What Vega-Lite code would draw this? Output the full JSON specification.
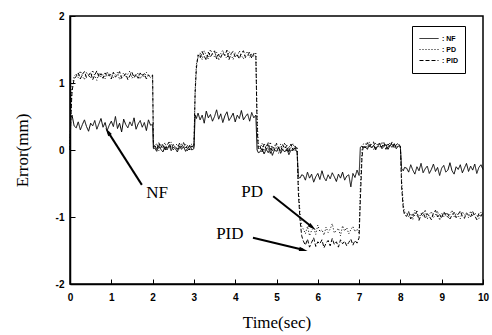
{
"$schema": "https://vega.github.io/schema/vega-lite/v6.json",
"width": 413, "height": 268,
"autosize": "none",
"padding": {"left": 70, "top": 16, "right": 9, "bottom": 51},
"background": "white",
"config": {"view": {"stroke": "black", "strokeWidth": 1.5}, "font": "Liberation Sans"},
"datasets": {
"sig": [
{"t":0,"NF":0,"PD":0,"PID":0},
{"t":0.02,"NF":0.48,"PD":0.55,"PID":0.5},
{"t":0.05,"NF":0.52,"PD":0.95,"PID":0.88},
{"t":0.1,"NF":0.36,"PD":1.1,"PID":1.06},
{"t":0.15,"NF":0.33,"PD":1.14,"PID":1.10},
{"t":0.2,"NF":0.42,"PD":1.08,"PID":1.15},
{"t":0.25,"NF":0.30,"PD":1.18,"PID":1.06},
{"t":0.3,"NF":0.38,"PD":1.10,"PID":1.13},
{"t":0.35,"NF":0.45,"PD":1.05,"PID":1.17},
{"t":0.4,"NF":0.35,"PD":1.16,"PID":1.08},
{"t":0.45,"NF":0.28,"PD":1.12,"PID":1.11},
{"t":0.5,"NF":0.40,"PD":1.07,"PID":1.16},
{"t":0.55,"NF":0.36,"PD":1.19,"PID":1.05},
{"t":0.6,"NF":0.44,"PD":1.11,"PID":1.12},
{"t":0.65,"NF":0.31,"PD":1.04,"PID":1.18},
{"t":0.7,"NF":0.39,"PD":1.15,"PID":1.09},
{"t":0.75,"NF":0.47,"PD":1.09,"PID":1.14},
{"t":0.8,"NF":0.34,"PD":1.13,"PID":1.07},
{"t":0.85,"NF":0.41,"PD":1.06,"PID":1.15},
{"t":0.9,"NF":0.29,"PD":1.17,"PID":1.10},
{"t":0.95,"NF":0.37,"PD":1.10,"PID":1.13},
{"t":1.0,"NF":0.43,"PD":1.14,"PID":1.06},
{"t":1.05,"NF":0.35,"PD":1.08,"PID":1.16},
{"t":1.1,"NF":0.50,"PD":1.12,"PID":1.09},
{"t":1.15,"NF":0.32,"PD":1.16,"PID":1.12},
{"t":1.2,"NF":0.40,"PD":1.05,"PID":1.17},
{"t":1.25,"NF":0.27,"PD":1.11,"PID":1.07},
{"t":1.3,"NF":0.46,"PD":1.15,"PID":1.10},
{"t":1.35,"NF":0.38,"PD":1.09,"PID":1.14},
{"t":1.4,"NF":0.33,"PD":1.13,"PID":1.05},
{"t":1.45,"NF":0.42,"PD":1.18,"PID":1.11},
{"t":1.5,"NF":0.36,"PD":1.07,"PID":1.16},
{"t":1.55,"NF":0.48,"PD":1.12,"PID":1.08},
{"t":1.6,"NF":0.31,"PD":1.10,"PID":1.13},
{"t":1.65,"NF":0.39,"PD":1.15,"PID":1.07},
{"t":1.7,"NF":0.44,"PD":1.06,"PID":1.15},
{"t":1.75,"NF":0.34,"PD":1.13,"PID":1.10},
{"t":1.8,"NF":0.41,"PD":1.09,"PID":1.14},
{"t":1.85,"NF":0.29,"PD":1.16,"PID":1.06},
{"t":1.9,"NF":0.45,"PD":1.11,"PID":1.12},
{"t":1.95,"NF":0.37,"PD":1.08,"PID":1.09},
{"t":2.0,"NF":0.38,"PD":1.11,"PID":1.12},
{"t":2.02,"NF":0.02,"PD":0.06,"PID":0.04},
{"t":2.05,"NF":0.03,"PD":0.05,"PID":0.08},
{"t":2.1,"NF":-0.02,"PD":0.10,"PID":0.00},
{"t":2.15,"NF":0.06,"PD":-0.01,"PID":0.11},
{"t":2.2,"NF":0.01,"PD":0.08,"PID":0.03},
{"t":2.25,"NF":-0.03,"PD":0.03,"PID":0.09},
{"t":2.3,"NF":0.05,"PD":0.11,"PID":-0.01},
{"t":2.35,"NF":0.00,"PD":0.02,"PID":0.07},
{"t":2.4,"NF":0.07,"PD":0.06,"PID":0.12},
{"t":2.45,"NF":-0.01,"PD":0.12,"PID":0.02},
{"t":2.5,"NF":0.04,"PD":0.00,"PID":0.08},
{"t":2.55,"NF":0.02,"PD":0.07,"PID":0.05},
{"t":2.6,"NF":-0.03,"PD":0.09,"PID":0.01},
{"t":2.65,"NF":0.06,"PD":0.01,"PID":0.10},
{"t":2.7,"NF":0.01,"PD":0.10,"PID":0.04},
{"t":2.75,"NF":0.05,"PD":0.04,"PID":0.11},
{"t":2.8,"NF":-0.02,"PD":0.08,"PID":0.03},
{"t":2.85,"NF":0.03,"PD":-0.02,"PID":0.07},
{"t":2.9,"NF":0.07,"PD":0.06,"PID":0.00},
{"t":2.95,"NF":0.00,"PD":0.09,"PID":0.06},
{"t":3.0,"NF":0.02,"PD":0.05,"PID":0.03},
{"t":3.03,"NF":0.52,"PD":0.9,"PID":0.85},
{"t":3.06,"NF":0.47,"PD":1.28,"PID":1.22},
{"t":3.1,"NF":0.55,"PD":1.38,"PID":1.42},
{"t":3.15,"NF":0.45,"PD":1.45,"PID":1.37},
{"t":3.2,"NF":0.52,"PD":1.35,"PID":1.47},
{"t":3.25,"NF":0.40,"PD":1.48,"PID":1.40},
{"t":3.3,"NF":0.58,"PD":1.41,"PID":1.34},
{"t":3.35,"NF":0.48,"PD":1.36,"PID":1.46},
{"t":3.4,"NF":0.53,"PD":1.50,"PID":1.39},
{"t":3.45,"NF":0.43,"PD":1.43,"PID":1.44},
{"t":3.5,"NF":0.50,"PD":1.39,"PID":1.48},
{"t":3.55,"NF":0.60,"PD":1.46,"PID":1.36},
{"t":3.6,"NF":0.46,"PD":1.34,"PID":1.43},
{"t":3.65,"NF":0.54,"PD":1.44,"PID":1.38},
{"t":3.7,"NF":0.41,"PD":1.49,"PID":1.45},
{"t":3.75,"NF":0.51,"PD":1.40,"PID":1.41},
{"t":3.8,"NF":0.57,"PD":1.37,"PID":1.49},
{"t":3.85,"NF":0.44,"PD":1.47,"PID":1.35},
{"t":3.9,"NF":0.49,"PD":1.42,"PID":1.44},
{"t":3.95,"NF":0.55,"PD":1.35,"PID":1.47},
{"t":4.0,"NF":0.42,"PD":1.45,"PID":1.39},
{"t":4.05,"NF":0.52,"PD":1.39,"PID":1.42},
{"t":4.1,"NF":0.47,"PD":1.48,"PID":1.36},
{"t":4.15,"NF":0.59,"PD":1.41,"PID":1.45},
{"t":4.2,"NF":0.45,"PD":1.36,"PID":1.48},
{"t":4.25,"NF":0.50,"PD":1.44,"PID":1.38},
{"t":4.3,"NF":0.54,"PD":1.47,"PID":1.41},
{"t":4.35,"NF":0.43,"PD":1.38,"PID":1.46},
{"t":4.4,"NF":0.56,"PD":1.43,"PID":1.37},
{"t":4.45,"NF":0.48,"PD":1.40,"PID":1.44},
{"t":4.5,"NF":0.52,"PD":1.46,"PID":1.40},
{"t":4.53,"NF":0.0,"PD":0.5,"PID":0.35},
{"t":4.56,"NF":-0.04,"PD":0.05,"PID":0.02},
{"t":4.6,"NF":-0.03,"PD":0.02,"PID":0.06},
{"t":4.65,"NF":0.02,"PD":0.10,"PID":-0.03},
{"t":4.7,"NF":-0.06,"PD":-0.04,"PID":0.09},
{"t":4.75,"NF":0.01,"PD":0.08,"PID":0.01},
{"t":4.8,"NF":-0.04,"PD":0.00,"PID":0.11},
{"t":4.85,"NF":0.03,"PD":0.12,"PID":-0.05},
{"t":4.9,"NF":-0.08,"PD":-0.02,"PID":0.05},
{"t":4.95,"NF":0.00,"PD":0.07,"PID":0.00},
{"t":5.0,"NF":-0.02,"PD":0.04,"PID":0.10},
{"t":5.05,"NF":0.04,"PD":-0.05,"PID":0.03},
{"t":5.1,"NF":-0.05,"PD":0.09,"PID":-0.02},
{"t":5.15,"NF":0.01,"PD":0.01,"PID":0.08},
{"t":5.2,"NF":-0.03,"PD":0.11,"PID":0.02},
{"t":5.25,"NF":0.02,"PD":-0.03,"PID":0.07},
{"t":5.3,"NF":-0.07,"PD":0.06,"PID":-0.04},
{"t":5.35,"NF":0.00,"PD":0.03,"PID":0.09},
{"t":5.4,"NF":-0.01,"PD":0.10,"PID":0.00},
{"t":5.45,"NF":0.03,"PD":-0.01,"PID":0.06},
{"t":5.5,"NF":-0.04,"PD":0.05,"PID":-0.02},
{"t":5.53,"NF":-0.40,"PD":-0.55,"PID":-0.65},
{"t":5.57,"NF":-0.42,"PD":-0.95,"PID":-1.05},
{"t":5.61,"NF":-0.37,"PD":-1.14,"PID":-1.28},
{"t":5.65,"NF":-0.38,"PD":-1.18,"PID":-1.36},
{"t":5.7,"NF":-0.45,"PD":-1.25,"PID":-1.42},
{"t":5.75,"NF":-0.33,"PD":-1.14,"PID":-1.33},
{"t":5.8,"NF":-0.42,"PD":-1.28,"PID":-1.45},
{"t":5.85,"NF":-0.36,"PD":-1.20,"PID":-1.38},
{"t":5.9,"NF":-0.48,"PD":-1.16,"PID":-1.31},
{"t":5.95,"NF":-0.40,"PD":-1.26,"PID":-1.44},
{"t":6.0,"NF":-0.35,"PD":-1.12,"PID":-1.37},
{"t":6.05,"NF":-0.44,"PD":-1.22,"PID":-1.40},
{"t":6.1,"NF":-0.31,"PD":-1.19,"PID":-1.34},
{"t":6.15,"NF":-0.41,"PD":-1.27,"PID":-1.46},
{"t":6.2,"NF":-0.46,"PD":-1.15,"PID":-1.39},
{"t":6.25,"NF":-0.37,"PD":-1.23,"PID":-1.35},
{"t":6.3,"NF":-0.43,"PD":-1.18,"PID":-1.43},
{"t":6.35,"NF":-0.34,"PD":-1.10,"PID":-1.32},
{"t":6.4,"NF":-0.40,"PD":-1.24,"PID":-1.41},
{"t":6.45,"NF":-0.47,"PD":-1.20,"PID":-1.37},
{"t":6.5,"NF":-0.36,"PD":-1.17,"PID":-1.45},
{"t":6.55,"NF":-0.42,"PD":-1.28,"PID":-1.34},
{"t":6.6,"NF":-0.33,"PD":-1.13,"PID":-1.40},
{"t":6.65,"NF":-0.45,"PD":-1.21,"PID":-1.36},
{"t":6.7,"NF":-0.39,"PD":-1.16,"PID":-1.43},
{"t":6.75,"NF":-0.37,"PD":-1.25,"PID":-1.38},
{"t":6.8,"NF":-0.55,"PD":-1.19,"PID":-1.33},
{"t":6.85,"NF":-0.35,"PD":-1.14,"PID":-1.42},
{"t":6.9,"NF":-0.41,"PD":-1.22,"PID":-1.35},
{"t":6.95,"NF":-0.30,"PD":-1.18,"PID":-1.39},
{"t":7.0,"NF":-0.38,"PD":-1.24,"PID":-1.31},
{"t":7.03,"NF":0.04,"PD":-0.55,"PID":-0.75},
{"t":7.07,"NF":0.06,"PD":0.0,"PID":-0.12},
{"t":7.1,"NF":0.03,"PD":0.09,"PID":0.07},
{"t":7.15,"NF":0.05,"PD":0.10,"PID":0.03},
{"t":7.2,"NF":0.01,"PD":0.04,"PID":0.11},
{"t":7.25,"NF":0.08,"PD":0.12,"PID":0.05},
{"t":7.3,"NF":0.03,"PD":0.06,"PID":0.09},
{"t":7.35,"NF":0.07,"PD":0.01,"PID":0.12},
{"t":7.4,"NF":0.00,"PD":0.11,"PID":0.02},
{"t":7.45,"NF":0.06,"PD":0.07,"PID":0.08},
{"t":7.5,"NF":0.09,"PD":0.03,"PID":0.10},
{"t":7.55,"NF":0.02,"PD":0.12,"PID":0.04},
{"t":7.6,"NF":0.05,"PD":0.05,"PID":0.11},
{"t":7.65,"NF":0.08,"PD":0.09,"PID":0.01},
{"t":7.7,"NF":0.01,"PD":0.02,"PID":0.09},
{"t":7.75,"NF":0.07,"PD":0.11,"PID":0.05},
{"t":7.8,"NF":0.04,"PD":0.06,"PID":0.12},
{"t":7.85,"NF":0.09,"PD":0.10,"PID":0.03},
{"t":7.9,"NF":0.02,"PD":0.03,"PID":0.08},
{"t":7.95,"NF":0.06,"PD":0.08,"PID":0.10},
{"t":8.0,"NF":0.04,"PD":0.07,"PID":0.05},
{"t":8.03,"NF":-0.28,"PD":-0.45,"PID":-0.55},
{"t":8.07,"NF":-0.31,"PD":-0.82,"PID":-0.88},
{"t":8.1,"NF":-0.26,"PD":-0.93,"PID":-0.97},
{"t":8.15,"NF":-0.27,"PD":-0.93,"PID":-0.99},
{"t":8.2,"NF":-0.33,"PD":-1.00,"PID":-0.92},
{"t":8.25,"NF":-0.22,"PD":-0.95,"PID":-1.03},
{"t":8.3,"NF":-0.30,"PD":-1.04,"PID":-0.96},
{"t":8.35,"NF":-0.36,"PD":-0.90,"PID":-0.98},
{"t":8.4,"NF":-0.25,"PD":-0.98,"PID":-0.91},
{"t":8.45,"NF":-0.31,"PD":-1.02,"PID":-1.05},
{"t":8.5,"NF":-0.20,"PD":-0.94,"PID":-0.97},
{"t":8.55,"NF":-0.34,"PD":-0.99,"PID":-0.93},
{"t":8.6,"NF":-0.28,"PD":-0.89,"PID":-1.01},
{"t":8.65,"NF":-0.24,"PD":-1.03,"PID":-0.95},
{"t":8.7,"NF":-0.35,"PD":-0.96,"PID":-0.99},
{"t":8.75,"NF":-0.29,"PD":-0.92,"PID":-1.04},
{"t":8.8,"NF":-0.21,"PD":-1.01,"PID":-0.94},
{"t":8.85,"NF":-0.32,"PD":-0.97,"PID":-0.90},
{"t":8.9,"NF":-0.26,"PD":-0.91,"PID":-1.00},
{"t":8.95,"NF":-0.38,"PD":-1.05,"PID":-0.96},
{"t":9.0,"NF":-0.27,"PD":-0.95,"PID":-1.02},
{"t":9.05,"NF":-0.23,"PD":-0.99,"PID":-0.92},
{"t":9.1,"NF":-0.33,"PD":-0.93,"PID":-0.98},
{"t":9.15,"NF":-0.30,"PD":-1.02,"PID":-0.95},
{"t":9.2,"NF":-0.19,"PD":-0.96,"PID":-1.03},
{"t":9.25,"NF":-0.31,"PD":-0.90,"PID":-0.97},
{"t":9.3,"NF":-0.36,"PD":-1.00,"PID":-0.93},
{"t":9.35,"NF":-0.25,"PD":-0.94,"PID":-1.01},
{"t":9.4,"NF":-0.29,"PD":-0.98,"PID":-0.96},
{"t":9.45,"NF":-0.22,"PD":-1.03,"PID":-0.91},
{"t":9.5,"NF":-0.34,"PD":-0.92,"PID":-0.99},
{"t":9.55,"NF":-0.27,"PD":-0.97,"PID":-1.02},
{"t":9.6,"NF":-0.20,"PD":-0.95,"PID":-0.94},
{"t":9.65,"NF":-0.32,"PD":-1.01,"PID":-0.97},
{"t":9.7,"NF":-0.24,"PD":-0.91,"PID":-1.00},
{"t":9.75,"NF":-0.30,"PD":-0.99,"PID":-0.92},
{"t":9.8,"NF":-0.21,"PD":-0.94,"PID":-0.98},
{"t":9.85,"NF":-0.35,"PD":-0.97,"PID":-1.04},
{"t":9.9,"NF":-0.26,"PD":-1.02,"PID":-0.95},
{"t":9.95,"NF":-0.22,"PD":-0.93,"PID":-0.99},
{"t":10.0,"NF":-0.29,"PD":-0.96,"PID":-0.93}
],
"ann": [
{"t":2.11,"value":-0.64,"label":"NF"},
{"t":4.41,"value":-0.63,"label":"PD"},
{"t":3.87,"value":-1.25,"label":"PID"}
],
"arr": [
{"t":1.74,"value":-0.52,"t2":0.92,"value2":0.27},
{"t":4.92,"value":-0.69,"t2":5.86,"value2":-1.15},
{"t":4.43,"value":-1.31,"t2":5.64,"value2":-1.49}
]
},
"layer": [
{
"data": {"name": "sig"},
"transform": [{"fold": ["NF", "PD", "PID"], "as": ["series", "value"]}],
"mark": {"type": "line", "strokeWidth": 1, "color": "black"},
"encoding": {
"x": {"field": "t", "type": "quantitative", "scale": {"domain": [0, 10], "nice": false},
 "axis": {"values": [0,0.5,1,1.5,2,2.5,3,3.5,4,4.5,5,5.5,6,6.5,7,7.5,8,8.5,9,9.5,10],
  "labelExpr": "datum.value % 1 === 0 ? '' + datum.value : ''",
  "tickSize": {"condition": {"test": "datum.value % 1 === 0", "value": -5}, "value": -3},
  "grid": false, "domainColor": "black", "domainWidth": 1.5, "tickColor": "black", "tickWidth": 1,
  "labelFont": "Liberation Sans", "labelFontWeight": "bold", "labelFontSize": 10, "labelColor": "black",
  "labelOverlap": false, "labelFlush": false, "labelPadding": 13,
  "title": "Time(sec)", "titleFont": "Liberation Serif", "titleFontSize": 17, "titleFontWeight": "normal",
  "titleColor": "black", "titleY": 38, "titleBaseline": "middle"}},
"y": {"field": "value", "type": "quantitative", "scale": {"domain": [-2, 2], "nice": false},
 "axis": {"values": [-2,-1.5,-1,-0.5,0,0.5,1,1.5,2],
  "labelExpr": "datum.value % 1 === 0 ? '' + datum.value : ''",
  "tickSize": {"condition": {"test": "datum.value % 1 === 0", "value": -5}, "value": -3},
  "grid": false, "domainColor": "black", "domainWidth": 1.5, "tickColor": "black", "tickWidth": 1,
  "labelFont": "Liberation Sans", "labelFontWeight": "bold", "labelFontSize": 10, "labelColor": "black",
  "labelOverlap": false, "labelFlush": false, "labelPadding": 11,
  "title": "Error(mm)", "titleFont": "Liberation Serif", "titleFontSize": 17, "titleFontWeight": "normal",
  "titleColor": "black", "titleX": -48, "titleY": 134, "titleAngle": 270, "titleAlign": "center", "titleBaseline": "middle"}},
"strokeDash": {"field": "series", "type": "nominal",
 "scale": {"domain": ["NF", "PD", "PID"], "range": [[1, 0], [1, 2], [4, 2]]},
 "legend": {"title": null, "orient": "none", "legendX": 342, "legendY": 10, "direction": "vertical",
  "strokeColor": "black", "fillColor": "white", "padding": 7, "symbolType": "stroke", "symbolSize": 361,
  "symbolStrokeWidth": 1, "symbolStrokeColor": "black", "labelFont": "Liberation Sans", "labelFontSize": 7,
  "labelFontWeight": "bold", "labelColor": "black", "labelExpr": "': ' + datum.label",
  "clipHeight": 11, "rowPadding": 0, "labelOffset": 3}}
}
},
{
"data": {"name": "ann"},
"mark": {"type": "text", "font": "Liberation Serif", "fontSize": 17, "color": "black", "align": "center", "baseline": "middle"},
"encoding": {
"x": {"field": "t", "type": "quantitative", "scale": {"domain": [0, 10], "nice": false}},
"y": {"field": "value", "type": "quantitative", "scale": {"domain": [-2, 2], "nice": false}},
"text": {"field": "label"}
}
},
{
"data": {"name": "arr"},
"mark": {"type": "rule", "strokeWidth": 2, "color": "black"},
"encoding": {
"x": {"field": "t", "type": "quantitative", "scale": {"domain": [0, 10], "nice": false}},
"y": {"field": "value", "type": "quantitative", "scale": {"domain": [-2, 2], "nice": false}},
"x2": {"field": "t2"},
"y2": {"field": "value2"}
}
},
{
"data": {"name": "arr"},
"transform": [{"calculate": "atan2((datum.t2 - datum.t) * 41.3, (datum.value2 - datum.value) * 67) * 180 / PI", "as": "ang"}],
"mark": {"type": "point", "shape": "M0,-1L0.45,0.8L-0.45,0.8Z", "filled": true, "color": "black", "size": 90, "opacity": 1},
"encoding": {
"x": {"field": "t2", "type": "quantitative", "scale": {"domain": [0, 10], "nice": false}},
"y": {"field": "value2", "type": "quantitative", "scale": {"domain": [-2, 2], "nice": false}},
"angle": {"field": "ang", "type": "quantitative", "scale": null}
}
}
]
}
